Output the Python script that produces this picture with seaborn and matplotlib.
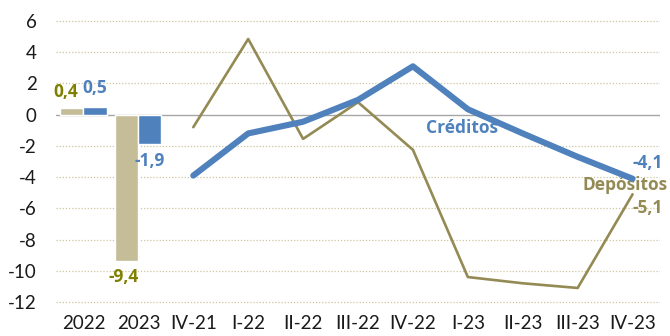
import matplotlib
matplotlib.use("Agg")
import matplotlib.pyplot as plt
import seaborn as sns
import pandas as pd

# Categories on the x axis: annual totals followed by quarters
categories = ["2022", "2023", "IV-21", "I-22", "II-22", "III-22", "IV-22",
              "I-23", "II-23", "III-23", "IV-23"]

# Annual variation (bars)
years = ["2022", "2023"]
depositos_anual = [0.4, -9.4]
creditos_anual = [0.5, -1.9]

# Quarterly variation (lines)
quarters = ["IV-21", "I-22", "II-22", "III-22", "IV-22",
            "I-23", "II-23", "III-23", "IV-23"]
creditos_trim = [-3.9, -1.2, -0.45, 0.95, 3.1, 0.35, -1.2, -2.7, -4.1]
depositos_trim = [-0.8, 4.85, -1.55, 0.8, -2.25, -10.4, -10.8, -11.1, -5.1]

series = ["Depósitos", "Créditos"]
BLUE = "#4F81BD"
BEIGE = "#C4BD97"
TAN = "#948A54"
OLIVE = "#808000"

sns.set_theme(style="white")
plt.rcParams["font.family"] = ["Lato", "DejaVu Sans"]
plt.rcParams["axes.unicode_minus"] = False


def fmt(v):
    return f"{v:.1f}".replace(".", ",")


bars = pd.DataFrame({
    "cat": years * 2,
    "serie": [series[0]] * len(years) + [series[1]] * len(years),
    "valor": depositos_anual + creditos_anual,
})

fig = plt.figure(figsize=(6.7, 3.36), dpi=100)
ax = fig.add_axes([0.0836, 0.0965, 0.9015, 0.8455])

# Gridlines and zero line
for yv in range(-12, 7, 2):
    if yv == 0:
        continue
    ax.axhline(yv, color="#CFC6A0", lw=0.9, ls=(0, (1, 1.5)), zorder=0)
ax.axhline(0, color="#A6A6A6", lw=1.0, zorder=1)

sns.barplot(data=bars, x="cat", y="valor", hue="serie", order=categories,
            hue_order=series, palette=[BEIGE, BLUE], width=0.84,
            saturation=1, legend=False, ax=ax, zorder=2)

pos = [categories.index(q) for q in quarters]
sns.lineplot(x=pos, y=depositos_trim, color=TAN, lw=1.9, ax=ax, zorder=3)
sns.lineplot(x=pos, y=creditos_trim, color=BLUE, lw=4.4, ax=ax, zorder=4,
             solid_capstyle="round")

ax.set_xlim(-0.5, len(categories) - 0.5)
ax.set_ylim(-12.1, 6.1)
ax.set_yticks(range(-12, 7, 2))
ax.set_xticks(range(len(categories)))
ax.set_xticklabels(categories)
ax.set_xlabel("")
ax.set_ylabel("")
ax.tick_params(axis="y", length=0, pad=14, labelsize=13.5, labelcolor="#1a1a1a")
ax.tick_params(axis="x", length=0, pad=8, labelsize=13.5, labelcolor="#1a1a1a")
for s in ax.spines.values():
    s.set_visible(False)

lab = dict(fontsize=12.5, fontweight="bold", ha="center", va="center",
           family=["Open Sans", "DejaVu Sans"])
# Bar value labels
ax.text(-0.32, depositos_anual[0] + 1.05, fmt(depositos_anual[0]), color=OLIVE, **lab)
ax.text(0.2, creditos_anual[0] + 1.2, fmt(creditos_anual[0]), color=BLUE, **lab)
ax.text(1 - 0.26, depositos_anual[1] - 1.0, fmt(depositos_anual[1]), color=OLIVE, **lab)
ax.text(1 + 0.21, creditos_anual[1] - 1.07, fmt(creditos_anual[1]), color=BLUE, **lab)

# Line labels
ax.text(6.9, -0.87, "Créditos", color=BLUE, **lab)
ax.text(10.28, creditos_trim[-1] + 1.0, fmt(creditos_trim[-1]), color=BLUE, **lab)
ax.text(9.86, -4.5, "Depósitos", color=TAN, **lab)
ax.text(10.28, depositos_trim[-1] - 0.9, fmt(depositos_trim[-1]), color=TAN, **lab)

fig.savefig("out.png", dpi=100)
